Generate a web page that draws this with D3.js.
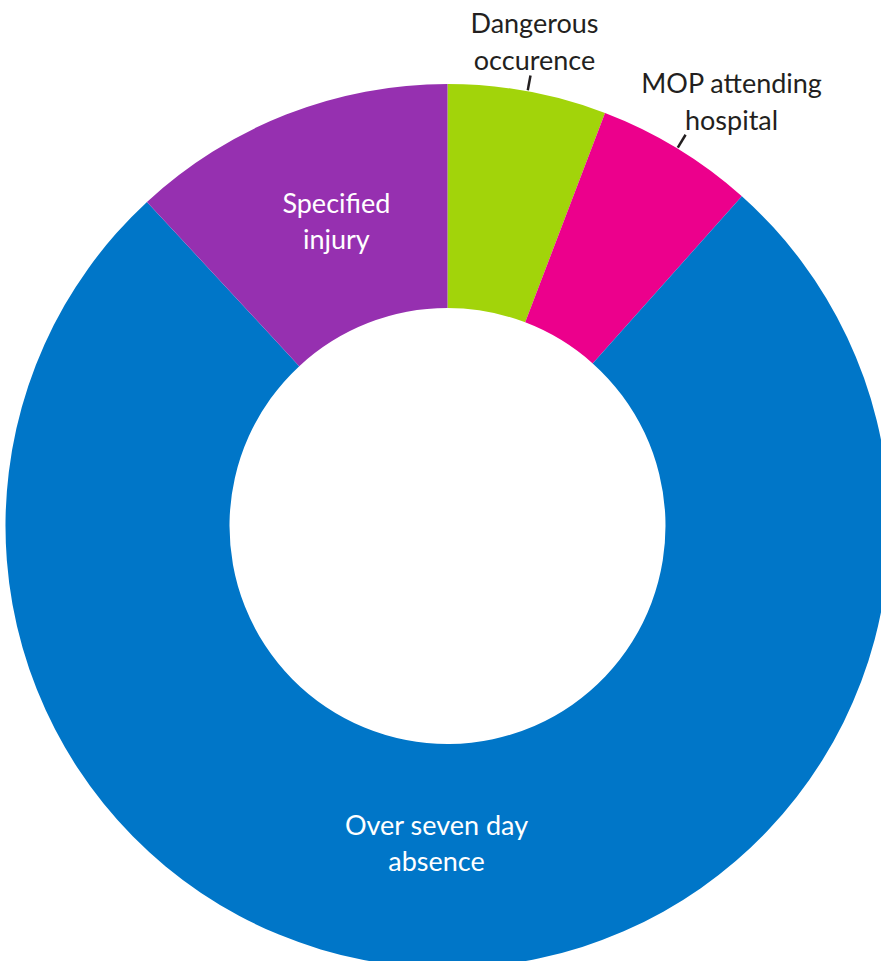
<!DOCTYPE html>
<html>
<head>
<meta charset="utf-8">
<script src="https://cdn.jsdelivr.net/npm/d3@7"></script>
<style>
  body { margin: 0; background: #fff; }
  svg { display: block; }
  text { font-family: Lato, "Open Sans", sans-serif; font-size: 27px; }
</style>
</head>
<body>
<svg id="chart" width="881" height="961"></svg>
<script>
// share of reported incidents, clockwise from 12 o'clock
let categories = ['Dangerous occurence', 'MOP attending hospital', 'Over seven day absence', 'Specified injury']
let values = [5.8, 5.8, 76.5, 11.9]
let labelLines = [
    ['Dangerous', 'occurence'],
    ['MOP attending', 'hospital'],
    ['Over seven day', 'absence'],
    ['Specified', 'injury']
]
let colors = ['#a2d40a', '#ec008c', '#0076c8', '#9630b0']

let width = 881
let height = 961
let cx = 447.5
let cy = 526
let outerR = 442
let innerR = 218

let svg = d3.select('#chart')
let g = svg.append('g')
           .attr('transform', 'translate(' + cx + ', ' + cy + ')')

let slices = categories.map((c, i) => {
    return {name: c, value: values[i], lines: labelLines[i], color: colors[i]}
})

let pie = d3.pie()
            .sort(null)
            .value((d) => {
                return d['value']
            })

let arc = d3.arc()
            .innerRadius(innerR)
            .outerRadius(outerR)

let arcs = pie(slices)

g.selectAll('path')
 .data(arcs)
 .enter()
 .append('path')
 .attr('d', arc)
 .attr('fill', (d) => {
    return d['data']['color']
 })

// small slices get their label outside with a short leader
let isOutside = (d) => {
    return d['value'] < 8
}

let polar = (angle, r) => {
    return [Math.sin(angle) * r, -Math.cos(angle) * r]
}

let midAngle = (d) => {
    return (d['startAngle'] + d['endAngle']) / 2
}

// text offsets from leader end: [dx of text centre, baseline of last line]
let outsideOffset = {
    'Dangerous occurence': [4, -6],
    'MOP attending hospital': [46, -5]
}

// nudges for labels sitting inside the ring
let insideOffset = {
    'Over seven day absence': [-14, 0],
    'Specified injury': [5, -8]
}

let outside = arcs.filter(isOutside)
let inside = arcs.filter((d) => !isOutside(d))

g.selectAll('line.leader')
 .data(outside)
 .enter()
 .append('line')
 .attr('class', 'leader')
 .attr('x1', (d) => polar(midAngle(d), outerR + 1)[0])
 .attr('y1', (d) => polar(midAngle(d), outerR + 1)[1])
 .attr('x2', (d) => polar(midAngle(d), outerR + 16)[0])
 .attr('y2', (d) => polar(midAngle(d), outerR + 16)[1])
 .attr('stroke', '#231f20')
 .attr('stroke-width', 2.5)

let lineH = 37

outside.forEach((d) => {
    let end = polar(midAngle(d), outerR + 16)
    let off = outsideOffset[d['data']['name']]
    let n = d['data']['lines'].length
    let t = g.append('text')
             .attr('text-anchor', 'middle')
             .attr('fill', '#231f20')
    d['data']['lines'].forEach((line, i) => {
        t.append('tspan')
         .attr('x', end[0] + off[0])
         .attr('y', end[1] + off[1] - (n - 1 - i) * lineH)
         .text(line)
    })
})

let labelR = 318

inside.forEach((d) => {
    let p = polar(midAngle(d), labelR)
    let off = insideOffset[d['data']['name']]
    let n = d['data']['lines'].length
    let t = g.append('text')
             .attr('text-anchor', 'middle')
             .attr('fill', '#ffffff')
    d['data']['lines'].forEach((line, i) => {
        t.append('tspan')
         .attr('x', p[0] + off[0])
         .attr('y', p[1] + off[1] + 9 + (i - (n - 1) / 2) * 36)
         .text(line)
    })
})
</script>
</body>
</html>
